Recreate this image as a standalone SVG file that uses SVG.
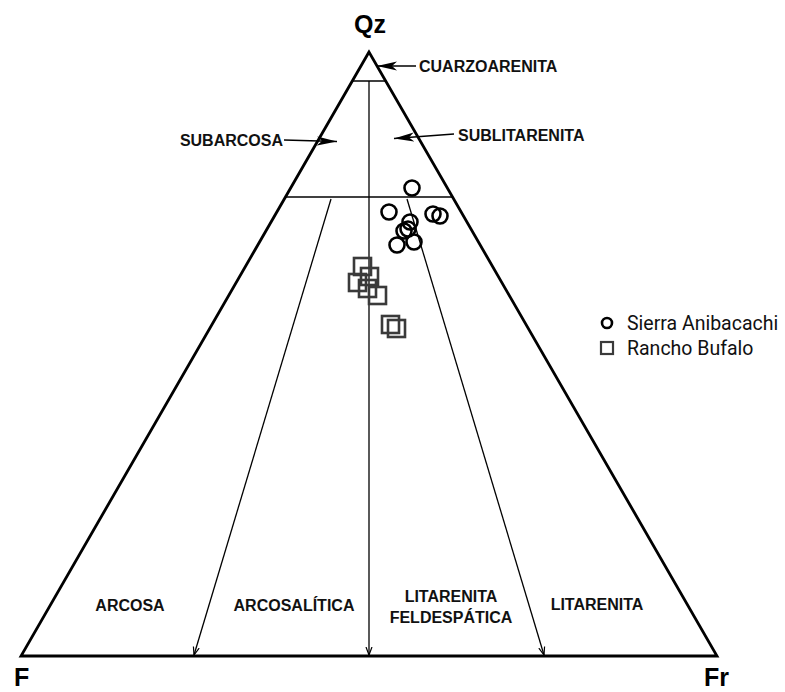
<svg xmlns="http://www.w3.org/2000/svg" width="785" height="692" viewBox="0 0 785 692">
  <style>
    .frame { fill: none; stroke: #000; stroke-width: 2.8; stroke-linejoin: miter; }
    .div { fill: none; stroke: #000; stroke-width: 1.3; }
    .lead { fill: none; stroke: #000; stroke-width: 1.3; }
    .vertex { font-family: "Liberation Sans", Arial, sans-serif; font-weight: bold; font-size: 25px; fill: #000; }
    .field { font-family: "Liberation Sans", Arial, sans-serif; font-weight: bold; font-size: 16px; fill: #111; }
    .legend { font-family: Roboto, "Liberation Sans", Arial, sans-serif; font-size: 19.5px; fill: #111; }
    .qa { fill: none; stroke: #000; stroke-width: 2.6; }
    .rb { fill: none; stroke: #3a3a3a; stroke-width: 2.6; }
  </style>
  <defs>
    <marker id="pointer" viewBox="0 0 20 10" refX="20" refY="5" markerWidth="20" markerHeight="10" markerUnits="userSpaceOnUse" orient="auto">
      <path d="M0,0.5 L20,5 L0,9.5 L5,5 Z" fill="#000"/>
    </marker>
    <marker id="tick" viewBox="0 0 8 8" refX="8" refY="4" markerWidth="8" markerHeight="8" markerUnits="userSpaceOnUse" orient="auto">
      <path d="M0,1 L8,4 L0,7" fill="none" stroke="#000" stroke-width="1.2"/>
    </marker>
  </defs>

  <!-- ternary frame Qz - F - Fr -->
  <g id="frame">
    <polygon class="frame" points="369,52 21,656 717,656"/>
  </g>

  <!-- field boundaries -->
  <g id="connectors">
    <line class="div" x1="352.3" y1="81" x2="385.7" y2="81"/>
    <line class="div" x1="285.5" y1="197" x2="452.5" y2="197"/>
    <line class="div" x1="369" y1="81" x2="369" y2="655" marker-end="url(#tick)"/>
    <line class="div" x1="331" y1="199" x2="194" y2="655" marker-end="url(#tick)"/>
    <line class="div" x1="407" y1="199" x2="544" y2="655" marker-end="url(#tick)"/>
    <!-- label leaders -->
    <line class="lead" x1="416" y1="66" x2="377" y2="66" marker-end="url(#pointer)"/>
    <line class="lead" x1="284" y1="140" x2="337" y2="141.5" marker-end="url(#pointer)"/>
    <line class="lead" x1="454" y1="134" x2="394" y2="138.5" marker-end="url(#pointer)"/>
  </g>

  <!-- vertex labels -->
  <g id="vertex-qz"><text class="vertex" x="370" y="33" text-anchor="middle">Qz</text></g>
  <g id="vertex-f"><text class="vertex" x="14" y="686">F</text></g>
  <g id="vertex-fr"><text class="vertex" x="704" y="686">Fr</text></g>

  <!-- field names -->
  <g id="cuarzoarenita"><text class="field" x="419" y="72">CUARZOARENITA</text></g>
  <g id="subarcosa"><text class="field" x="283" y="146" text-anchor="end">SUBARCOSA</text></g>
  <g id="sublitarenita"><text class="field" x="458" y="141">SUBLITARENITA</text></g>
  <g id="arcosa"><text class="field" x="130" y="611" text-anchor="middle">ARCOSA</text></g>
  <g id="arcosalitica"><text class="field" x="294" y="611" text-anchor="middle">ARCOSALÍTICA</text></g>
  <g id="litarenita-feldespatica">
    <text class="field" x="451" y="602" text-anchor="middle">LITARENITA</text>
    <text class="field" x="451" y="623" text-anchor="middle">FELDESPÁTICA</text>
  </g>
  <g id="litarenita"><text class="field" x="597" y="610" text-anchor="middle">LITARENITA</text></g>

  <!-- Sierra Anibacachi samples -->
  <g id="sierra-anibacachi">
    <circle class="qa" cx="412" cy="188" r="7.5"/>
    <circle class="qa" cx="389" cy="212" r="7.5"/>
    <circle class="qa" cx="433" cy="214" r="7.5"/>
    <circle class="qa" cx="440" cy="216" r="7.5"/>
    <circle class="qa" cx="410" cy="222" r="7.5"/>
    <circle class="qa" cx="404" cy="231" r="7.5"/>
    <circle class="qa" cx="408" cy="229" r="7.5"/>
    <circle class="qa" cx="397" cy="245" r="7.5"/>
    <circle class="qa" cx="414" cy="242" r="7.5"/>
  </g>

  <!-- Rancho Bufalo samples -->
  <g id="rancho-bufalo">
    <rect class="rb" x="354" y="258" width="17" height="17"/>
    <rect class="rb" x="361" y="268" width="17" height="17"/>
    <rect class="rb" x="349" y="274" width="17" height="17"/>
    <rect class="rb" x="359" y="280" width="17" height="17"/>
    <rect class="rb" x="369" y="287" width="17" height="17"/>
    <rect class="rb" x="382" y="316" width="17" height="17"/>
    <rect class="rb" x="388" y="320" width="17" height="17"/>
  </g>

  <!-- legend -->
  <g id="legend">
    <circle cx="607" cy="323" r="5" fill="none" stroke="#000" stroke-width="2.6"/>
    <text class="legend" x="627" y="330">Sierra Anibacachi</text>
    <rect x="601" y="342" width="12" height="12" fill="none" stroke="#3a3a3a" stroke-width="2.2"/>
    <text class="legend" x="627" y="355">Rancho Bufalo</text>
  </g>
</svg>
